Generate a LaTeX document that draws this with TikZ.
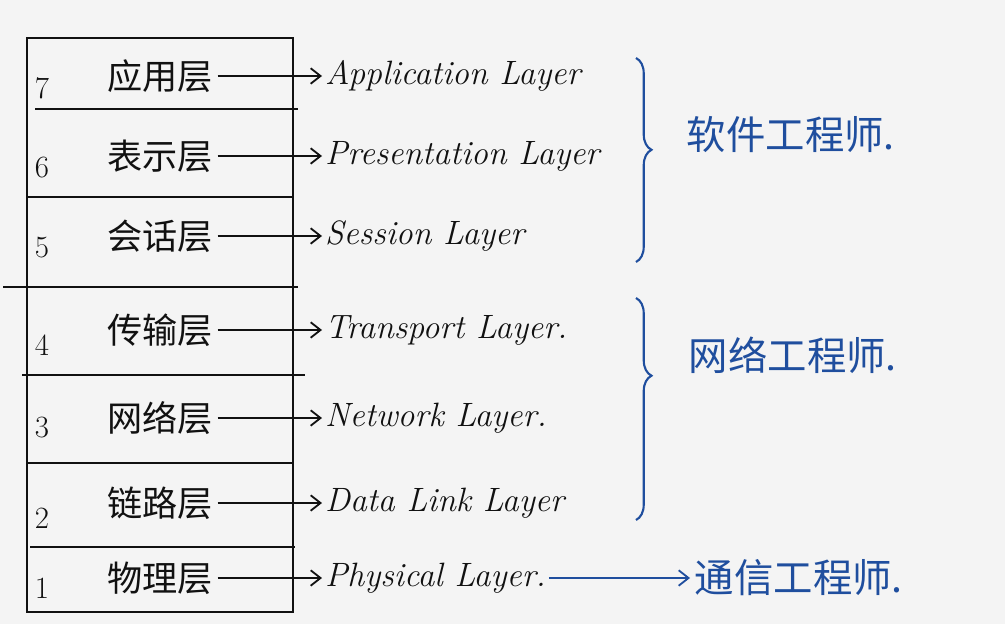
\documentclass[tikz,border=0pt]{standalone}
\usepackage{fontspec}
\newfontfamily\cjk{Noto Sans CJK SC}
\usepackage{tikz}
\usetikzlibrary{arrows.meta, positioning, decorations.pathreplacing}
\usepackage{xcolor}
\definecolor{paper}{HTML}{F4F4F4}
\definecolor{ink}{HTML}{111111}
\definecolor{penblue}{HTML}{1F4E9E}

\begin{document}
\begin{tikzpicture}[
  x=0.025cm, y=-0.025cm,
  rule/.style={draw=ink, line width=1.5pt},
  num/.style={font=\fontsize{22}{24}\selectfont, text=ink},
  cnname/.style={font=\cjk\fontsize{25}{28}\selectfont, text=ink},
  enname/.style={anchor=west, font=\itshape\fontsize{24}{28}\selectfont, text=ink, inner sep=2pt},
  note/.style={anchor=west, font=\cjk\fontsize{28}{32}\selectfont, text=penblue},
  arr/.style={-{Straight Barb[length=7pt, width=11pt]}, line width=1.3pt, draw=ink},
  brc/.style={decorate, decoration={brace, amplitude=11pt}, draw=penblue, line width=1.5pt}
]
  % paper
  \fill[paper] (0,0) rectangle (1005,624);

  % layer box
  \draw[rule] (27,38) rectangle (293,612);
  \draw[rule] (35,109) -- (298,109);
  \draw[rule] (27,197) -- (293,197);
  \draw[rule] (3,287) -- (298,287);
  \draw[rule] (22,375) -- (305,375);
  \draw[rule] (27,463) -- (293,463);
  \draw[rule] (30,547) -- (295,547);

  % layers: number / y of number / chinese / english / y of row
  \foreach \n/\yn/\cn/\en/\yr in {
      7/88/应用层/Application Layer/76,
      6/168/表示层/Presentation Layer/156,
      5/248/会话层/Session Layer/236,
      4/345/传输层/Transport Layer./330,
      3/428/网络层/Network Layer./418,
      2/518/链路层/Data Link Layer/503,
      1/588/物理层/Physical Layer./578} {
    \node[num] (n\n) at (42,\yn) {\n};
    \node[cnname] (cn\n) at (160,\yr) {\cn};
    \node[enname] (en\n) at (322,\yr) {\en};
    \draw[arr] (cn\n) -- (en\n);
  }

  % engineers
  \node[note] (soft) at (682,135) {软件工程师.};
  \node[note] (net) at (684,355) {网络工程师.};
  \node[note] (comm) at (690,578) {通信工程师.};

  \coordinate (b1top) at (636,58);
  \coordinate (b1bot) at (636,262);
  \coordinate (b2top) at (636,298);
  \coordinate (b2bot) at (636,520);
  \draw[brc, decoration={aspect=0.45}] (b1top) -- (b1bot);
  \draw[brc, decoration={aspect=0.35}] (b2top) -- (b2bot);

  \draw[arr, draw=penblue] (en1) -- (comm);
\end{tikzpicture}
\end{document}
